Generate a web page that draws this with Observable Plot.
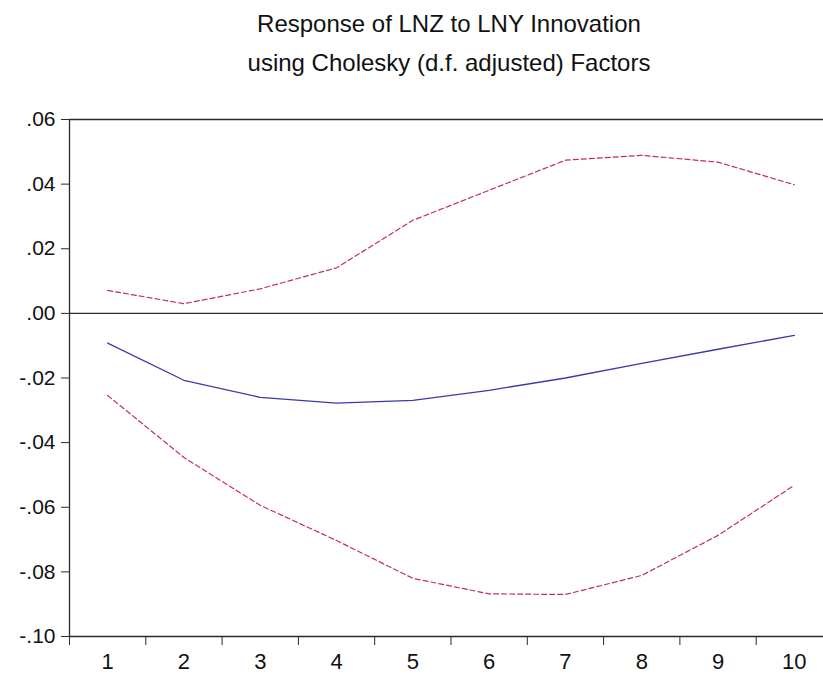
<!DOCTYPE html>
<html>
<head>
<meta charset="utf-8">
<script src="https://cdn.jsdelivr.net/npm/d3@7"></script>
<script src="https://cdn.jsdelivr.net/npm/@observablehq/plot@0.6"></script>
<style>
  html, body { margin: 0; padding: 0; background: #fff; }
  #wrap { width: 823px; height: 675px; position: relative; overflow: hidden; }
  #title {
    box-sizing: border-box; width: 823px; height: 95px;
    padding: 4px 0 0 75px; text-align: center;
    font-family: "Liberation Sans", Arial, sans-serif; font-size: 24px;
    line-height: 39px; color: #111;
  }
  svg { display: block; }
</style>
</head>
<body>
<div id="wrap">
  <div id="title">Response of LNZ to LNY Innovation<br>using Cholesky (d.f. adjusted) Factors</div>
  <div id="chart"></div>
</div>
<script>
// Impulse response periods
const periods = [1, 2, 3, 4, 5, 6, 7, 8, 9, 10];
// Response of LNZ to a one-S.D. LNY innovation
const response = [-0.0092, -0.0207, -0.0260, -0.0278, -0.0269, -0.0238, -0.0200, -0.0155, -0.0111, -0.0068];
// +/- 2 S.E. bands
const upper = [0.0071, 0.0030, 0.0076, 0.0141, 0.0288, 0.0381, 0.0474, 0.0489, 0.0468, 0.0398];
const lower = [-0.0254, -0.0446, -0.0594, -0.0703, -0.0820, -0.0868, -0.0870, -0.0811, -0.0687, -0.0532];
// Axis ticks
const yTicks = [0.06, 0.04, 0.02, 0.00, -0.02, -0.04, -0.06, -0.08, -0.10];
const xTickLabels = ["1", "2", "3", "4", "5", "6", "7", "8", "9", "10"];

const rows = periods.map((p, i) => ({period: p, response: response[i], upper: upper[i], lower: lower[i]}));
const bandEdges = d3.range(0, periods.length + 1).map(i => 0.5 + i);

const fmt = d => {
  const s = d3.format(".2f")(Math.abs(d)).replace(/^0/, "");
  return (d < 0 ? "-" : "") + s;
};

const blue = "#3a3aad";
const red = "#c43050";
const ink = "#2a2a2a";

const chart = Plot.plot({
  width: 823,
  height: 580,
  marginTop: 24,
  marginBottom: 39,
  marginLeft: 69,
  marginRight: 0,
  style: {fontFamily: "'Liberation Sans', Arial, sans-serif", fontSize: "21px", color: "#111", background: "#fff"},
  x: {domain: [0.5, 10.5], range: [69, 832]},
  y: {domain: [-0.10, 0.06]},
  marks: [
    Plot.axisY({ticks: yTicks, tickFormat: fmt, tickSize: 8, tickPadding: 6, stroke: ink, label: null, fontSize: 21}),
    Plot.axisX({ticks: bandEdges, tickFormat: () => "", tickSize: 9, stroke: ink, label: null}),
    Plot.axisX({ticks: periods, tickFormat: (d, i) => xTickLabels[i], tickSize: 0, tickPadding: 17, label: null, fontSize: 22}),
    Plot.ruleY([0.06], {stroke: ink, strokeWidth: 1.3}),
    Plot.ruleY([0], {stroke: ink, strokeWidth: 1.3}),
    Plot.ruleY([-0.10], {stroke: ink, strokeWidth: 1.3}),
    Plot.ruleX([0.5], {stroke: ink, strokeWidth: 1.3}),
    Plot.line(rows, {x: "period", y: "upper", stroke: red, strokeWidth: 1.2, strokeDasharray: "5,3"}),
    Plot.line(rows, {x: "period", y: "lower", stroke: red, strokeWidth: 1.2, strokeDasharray: "5,3"}),
    Plot.line(rows, {x: "period", y: "response", stroke: blue, strokeWidth: 1.3})
  ]
});
document.getElementById("chart").appendChild(chart);
</script>
</body>
</html>
